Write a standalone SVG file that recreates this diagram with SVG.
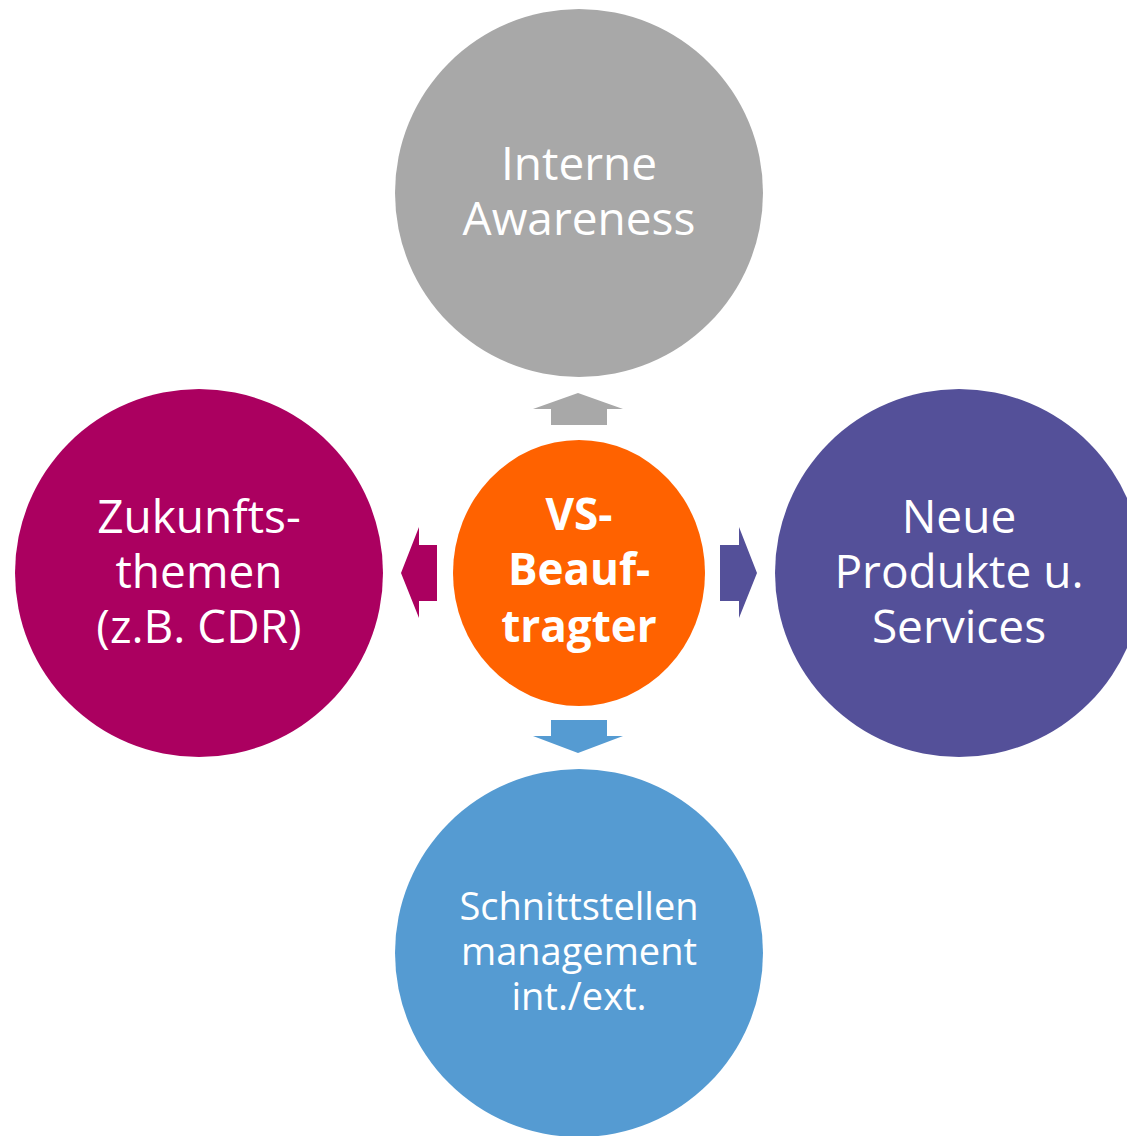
<svg xmlns="http://www.w3.org/2000/svg" width="1127" height="1136" viewBox="0 0 1127 1136">
<style>
text{font-family:"Open Sans","Noto Sans","DejaVu Sans",sans-serif;fill:#fff;text-anchor:middle}
.l{font-size:46px}
.s{font-size:38px}
.b{font-size:44px;font-weight:bold}
</style>
<rect width="1127" height="1136" fill="#fff"/>
<g id="connectors">
<polygon fill="#A8A8A8" points="578,393 623,409 607,409 607,425 551,425 551,409 533,409"/>
<polygon fill="#AB0060" points="401,573 419,527 419,545 437,545 437,601 419,601 419,618"/>
<polygon fill="#545099" points="757,573 739,527 739,545 720,545 720,601 739,601 739,618"/>
<polygon fill="#559BD2" points="578,753 623,736 607,736 607,720 551,720 551,736 533,736"/>
</g>
<g id="top">
<circle cx="579" cy="193" r="184" fill="#A8A8A8"/>
<text class="l" x="579" y="180">Interne</text>
<text class="l" x="579" y="235">Awareness</text>
</g>
<g id="left">
<circle cx="199" cy="573" r="184" fill="#AB0060"/>
<text class="l" x="199" y="533">Zukunfts-</text>
<text class="l" x="199" y="588">themen</text>
<text class="l" x="199" y="643">(z.B. CDR)</text>
</g>
<g id="right">
<circle cx="959" cy="573" r="184" fill="#545099"/>
<text class="l" x="959" y="533">Neue</text>
<text class="l" x="959" y="588">Produkte u.</text>
<text class="l" x="959" y="643">Services</text>
</g>
<g id="bottom">
<circle cx="579" cy="953" r="184" fill="#559BD2"/>
<text class="s" x="579" y="920">Schnittstellen</text>
<text class="s" x="579" y="965">management</text>
<text class="s" x="579" y="1010">int./ext.</text>
</g>
<g id="center">
<ellipse cx="579" cy="573" rx="126" ry="133" fill="#FF6200"/>
<text class="b" x="579" y="530">VS-</text>
<text class="b" x="579" y="585">Beauf-</text>
<text class="b" x="579" y="642">tragter</text>
</g>
</svg>
